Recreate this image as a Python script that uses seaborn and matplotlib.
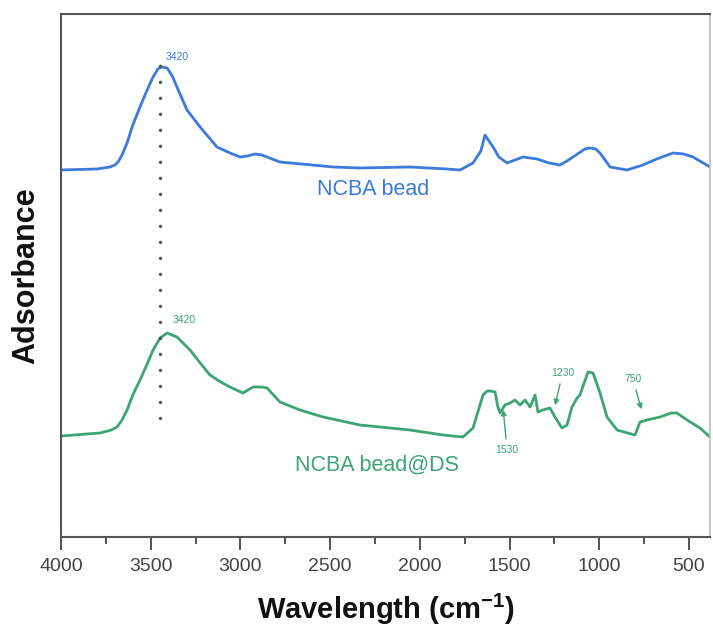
import matplotlib
matplotlib.use('Agg')
import matplotlib.pyplot as plt
import seaborn as sns
import numpy as np
import pandas as pd
from matplotlib.ticker import MultipleLocator

# NCBA bead spectrum (wavenumber cm-1, absorbance a.u.)
wn_bead = [4000, 3800, 3727, 3700, 3682, 3660, 3632, 3600, 3560, 3520, 3487, 3460,
           3440, 3409, 3380, 3354, 3298, 3225, 3131, 3058, 3002, 2960, 2919, 2880,
           2852, 2780, 2600, 2484, 2334, 2055, 1850, 1776, 1704, 1660, 1637, 1615,
           1592, 1560, 1514, 1470, 1425, 1347, 1280, 1219, 1180, 1147, 1080, 1052,
           1020, 996, 940, 846, 757, 680, 589, 530, 478, 383]
abs_bead = [3.67, 3.68, 3.70, 3.72, 3.75, 3.82, 3.94, 4.12, 4.30, 4.47, 4.60, 4.68,
            4.70, 4.69, 4.61, 4.50, 4.27, 4.10, 3.90, 3.84, 3.80, 3.81, 3.83, 3.82,
            3.80, 3.75, 3.72, 3.70, 3.69, 3.70, 3.68, 3.67, 3.74, 3.86, 4.02, 3.96,
            3.90, 3.80, 3.74, 3.77, 3.80, 3.78, 3.74, 3.72, 3.76, 3.80, 3.88, 3.89,
            3.88, 3.84, 3.70, 3.67, 3.72, 3.78, 3.84, 3.83, 3.80, 3.70]

# NCBA bead@DS spectrum
wn_ds = [4000, 3783, 3720, 3688, 3660, 3632, 3600, 3560, 3520, 3487, 3448, 3409,
         3354, 3281, 3220, 3170, 3110, 3058, 2986, 2930, 2880, 2852, 2780, 2668,
         2540, 2334, 2055, 1871, 1760, 1704, 1648, 1625, 1609, 1581, 1565, 1553,
         1526, 1498, 1470, 1442, 1414, 1386, 1358, 1342, 1314, 1275, 1247, 1208,
         1180, 1152, 1124, 1108, 1063, 1035, 996, 957, 901, 801, 773, 734, 662,
         600, 567, 511, 439, 383]
abs_ds = [1.01, 1.04, 1.07, 1.10, 1.17, 1.27, 1.42, 1.57, 1.73, 1.87, 1.99, 2.04,
          2.00, 1.87, 1.73, 1.62, 1.55, 1.50, 1.44, 1.50, 1.50, 1.49, 1.35, 1.27,
          1.20, 1.12, 1.07, 1.02, 1.00, 1.09, 1.42, 1.46, 1.46, 1.45, 1.30, 1.24,
          1.32, 1.34, 1.37, 1.32, 1.37, 1.30, 1.42, 1.25, 1.27, 1.29, 1.20, 1.09,
          1.12, 1.30, 1.39, 1.42, 1.65, 1.64, 1.44, 1.20, 1.07, 1.02, 1.15, 1.17,
          1.20, 1.24, 1.24, 1.17, 1.09, 1.00]

blue = '#3b7bdb'
green = '#3ba574'

df = pd.concat([
    pd.DataFrame({'wn': wn_bead, 'absorb': abs_bead, 'sample': 'NCBA bead'}),
    pd.DataFrame({'wn': wn_ds, 'absorb': abs_ds, 'sample': 'NCBA bead@DS'}),
])

sns.set_style('ticks')
plt.rcParams['font.family'] = ['Liberation Sans', 'DejaVu Sans']

fig = plt.figure(figsize=(7.13, 6.3), dpi=100)
ax = fig.add_axes([0.0856, 0.1476, 0.9102, 0.8302])

sns.lineplot(data=df, x='wn', y='absorb', hue='sample', sort=False,
             palette={'NCBA bead': blue, 'NCBA bead@DS': green},
             linewidth=2.0, legend=False, ax=ax)

ax.set_xlim(4000, 383)
ax.set_ylim(0, 5.23)
ax.xaxis.set_major_locator(MultipleLocator(500))
ax.xaxis.set_minor_locator(MultipleLocator(250))
ax.set_yticks([])
ax.tick_params(axis='x', which='major', direction='out', length=9, width=1.3,
               color='#444444', labelsize=14, labelcolor='#444444', pad=6)
ax.tick_params(axis='x', which='minor', direction='out', length=5, width=1.3,
               color='#444444')
for side in ['left', 'bottom', 'top']:
    ax.spines[side].set_color('#555555')
    ax.spines[side].set_linewidth(1.5)
ax.spines['right'].set_color('#bbbbbb')
ax.spines['right'].set_linewidth(1.2)

ax.set_xlabel('Wavelength (cm$^{\\mathregular{-1}}$)', fontsize=21,
              fontweight='bold', labelpad=12, color='#111111')
ax.set_ylabel('Adsorbance', fontsize=22, fontweight='bold', labelpad=14,
              color='#111111')

# dotted guide line at the O-H peak
ax.plot([3448, 3448], [1.19, 4.85], color='#555555', lw=2.5,
        linestyle=(0, (0.01, 4.6)), dash_capstyle='round')

ax.text(3415, 4.80, '3420', color=blue, fontsize=7.5, va='center')
ax.text(3376, 2.17, '3420', color=green, fontsize=7.5, va='center')

ax.text(2261, 3.47, 'NCBA bead', color=blue, fontsize=15.5,
        ha='center', va='center')
ax.text(2239, 0.72, 'NCBA bead@DS', color=green, fontsize=15.5,
        ha='center', va='center')

arrow = dict(arrowstyle='-|>', color=green, lw=1.0, mutation_scale=8)
ax.annotate('1530', xy=(1537, 1.30), xytext=(1514, 0.87), color=green,
            fontsize=7.5, ha='center', va='center', arrowprops=arrow)
ax.annotate('1230', xy=(1250, 1.29), xytext=(1205, 1.64), color=green,
            fontsize=7.5, ha='center', va='center', arrowprops=arrow)
ax.annotate('750', xy=(762, 1.25), xytext=(812, 1.58), color=green,
            fontsize=7.5, ha='center', va='center', arrowprops=arrow)

fig.savefig('out.png', dpi=100, facecolor='white')
